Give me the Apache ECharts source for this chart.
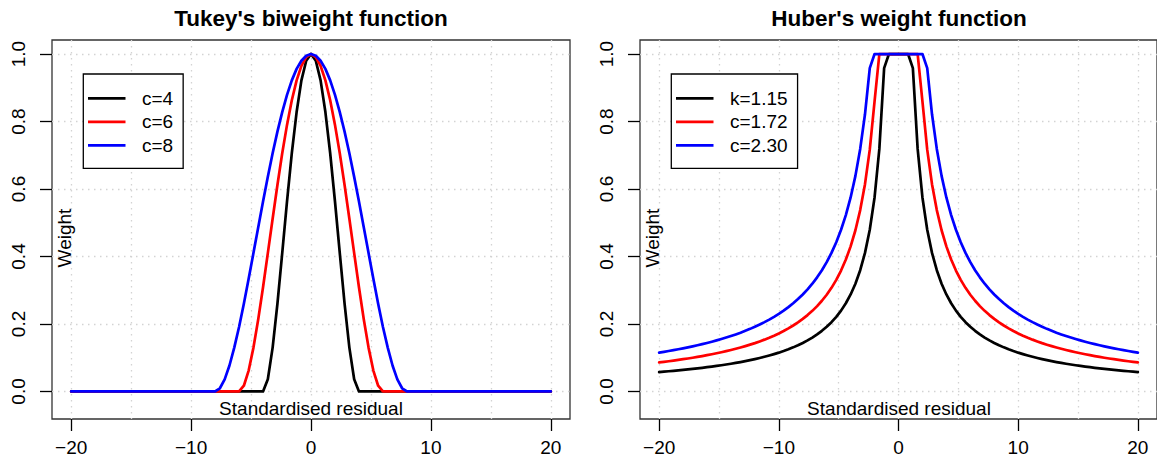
<!DOCTYPE html>
<html><head><meta charset="utf-8">
<script src="https://cdn.jsdelivr.net/npm/echarts@6/dist/echarts.min.js"></script>
<style>html,body{margin:0;padding:0;background:#fff}#c{width:1157px;height:468px}</style>
</head><body><div id="c"></div>
<script>
// ---- data ----
const residuals = [
 -20,-19.6,-19.2,-18.8,-18.4,-18,-17.6,-17.2,-16.8,-16.4,
 -16,-15.6,-15.2,-14.8,-14.4,-14,-13.6,-13.2,-12.8,-12.4,
 -12,-11.6,-11.2,-10.8,-10.4,-10,-9.6,-9.2,-8.8,-8.4,
 -8,-7.6,-7.2,-6.8,-6.4,-6,-5.6,-5.2,-4.8,-4.4,
 -4,-3.6,-3.2,-2.8,-2.4,-2,-1.6,-1.2,-0.8,-0.4,
 0,
 0.4,0.8,1.2,1.6,2,2.4,2.8,3.2,3.6,4,
 4.4,4.8,5.2,5.6,6,6.4,6.8,7.2,7.6,8,
 8.4,8.8,9.2,9.6,10,10.4,10.8,11.2,11.6,12,
 12.4,12.8,13.2,13.6,14,14.4,14.8,15.2,15.6,16,
 16.4,16.8,17.2,17.6,18,18.4,18.8,19.2,19.6,20
];
const tukeyC4 = [
 0,0,0,0,0,0,0,0,0,0,
 0,0,0,0,0,0,0,0,0,0,
 0,0,0,0,0,0,0,0,0,0,
 0,0,0,0,0,0,0,0,0,0,
 0,0.036,0.130,0.260,0.410,0.563,0.706,0.828,0.922,0.980,
 1,
 0.980,0.922,0.828,0.706,0.563,0.410,0.260,0.130,0.036,0,
 0,0,0,0,0,0,0,0,0,0,
 0,0,0,0,0,0,0,0,0,0,
 0,0,0,0,0,0,0,0,0,0,
 0,0,0,0,0,0,0,0,0,0
];
const tukeyC6 = [
 0,0,0,0,0,0,0,0,0,0,
 0,0,0,0,0,0,0,0,0,0,
 0,0,0,0,0,0,0,0,0,0,
 0,0,0,0,0,0,0.017,0.062,0.130,0.214,
 0.309,0.410,0.512,0.612,0.706,0.790,0.863,0.922,0.965,0.991,
 1,
 0.991,0.965,0.922,0.863,0.790,0.706,0.612,0.512,0.410,0.309,
 0.214,0.130,0.062,0.017,0,0,0,0,0,0,
 0,0,0,0,0,0,0,0,0,0,
 0,0,0,0,0,0,0,0,0,0,
 0,0,0,0,0,0,0,0,0,0
];
const tukeyC8 = [
 0,0,0,0,0,0,0,0,0,0,
 0,0,0,0,0,0,0,0,0,0,
 0,0,0,0,0,0,0,0,0,0,
 0,0.0095,0.036,0.077,0.130,0.191,0.260,0.334,0.410,0.487,
 0.563,0.636,0.706,0.770,0.828,0.879,0.922,0.956,0.980,0.995,
 1,
 0.995,0.980,0.956,0.922,0.879,0.828,0.770,0.706,0.636,0.563,
 0.487,0.410,0.334,0.260,0.191,0.130,0.077,0.036,0.0095,0,
 0,0,0,0,0,0,0,0,0,0,
 0,0,0,0,0,0,0,0,0,0,
 0,0,0,0,0,0,0,0,0,0
];
const huberK115 = [
 0.0575,0.0587,0.0599,0.0612,0.0625,0.0639,0.0653,0.0669,0.0685,0.0701,
 0.0719,0.0737,0.0757,0.0777,0.0799,0.0821,0.0846,0.0871,0.0898,0.0927,
 0.0958,0.0991,0.1027,0.1065,0.1106,0.115,0.1198,0.125,0.1307,0.1369,
 0.1438,0.1513,0.1597,0.1691,0.1797,0.1917,0.2054,0.2212,0.2396,0.2614,
 0.2875,0.3194,0.3594,0.4107,0.4792,0.575,0.7188,0.9583,1,1,
 1,
 1,1,0.9583,0.7188,0.575,0.4792,0.4107,0.3594,0.3194,0.2875,
 0.2614,0.2396,0.2212,0.2054,0.1917,0.1797,0.1691,0.1597,0.1513,0.1438,
 0.1369,0.1307,0.125,0.1198,0.115,0.1106,0.1065,0.1027,0.0991,0.0958,
 0.0927,0.0898,0.0871,0.0846,0.0821,0.0799,0.0777,0.0757,0.0737,0.0719,
 0.0701,0.0685,0.0669,0.0653,0.0639,0.0625,0.0612,0.0599,0.0587,0.0575
];
const huberC172 = [
 0.086,0.0878,0.0896,0.0915,0.0935,0.0956,0.0977,0.1,0.1024,0.1049,
 0.1075,0.1103,0.1132,0.1162,0.1194,0.1229,0.1265,0.1303,0.1344,0.1387,
 0.1433,0.1483,0.1536,0.1593,0.1654,0.172,0.1792,0.187,0.1955,0.2048,
 0.215,0.2263,0.2389,0.2529,0.2688,0.2867,0.3071,0.3308,0.3583,0.3909,
 0.43,0.4778,0.5375,0.6143,0.7167,0.86,1,1,1,1,
 1,
 1,1,1,1,0.86,0.7167,0.6143,0.5375,0.4778,0.43,
 0.3909,0.3583,0.3308,0.3071,0.2867,0.2688,0.2529,0.2389,0.2263,0.215,
 0.2048,0.1955,0.187,0.1792,0.172,0.1654,0.1593,0.1536,0.1483,0.1433,
 0.1387,0.1344,0.1303,0.1265,0.1229,0.1194,0.1162,0.1132,0.1103,0.1075,
 0.1049,0.1024,0.1,0.0977,0.0956,0.0935,0.0915,0.0896,0.0878,0.086
];
const huberC230 = [
 0.115,0.1173,0.1198,0.1223,0.125,0.1278,0.1307,0.1337,0.1369,0.1402,
 0.1438,0.1474,0.1513,0.1554,0.1597,0.1643,0.1691,0.1742,0.1797,0.1855,
 0.1917,0.1983,0.2054,0.213,0.2212,0.23,0.2396,0.25,0.2614,0.2738,
 0.2875,0.3026,0.3194,0.3382,0.3594,0.3833,0.4107,0.4423,0.4792,0.5227,
 0.575,0.6389,0.7188,0.8214,0.9583,1,1,1,1,1,
 1,
 1,1,1,1,1,0.9583,0.8214,0.7188,0.6389,0.575,
 0.5227,0.4792,0.4423,0.4107,0.3833,0.3594,0.3382,0.3194,0.3026,0.2875,
 0.2738,0.2614,0.25,0.2396,0.23,0.2212,0.213,0.2054,0.1983,0.1917,
 0.1855,0.1797,0.1742,0.1691,0.1643,0.1597,0.1554,0.1513,0.1474,0.1438,
 0.1402,0.1369,0.1337,0.1307,0.1278,0.125,0.1223,0.1198,0.1173,0.115
];
const tukeyNames = ['c=4', 'c=6', 'c=8'];
const huberNames = ['k=1.15', 'c=1.72', 'c=2.30'];
const titles = ["Tukey's biweight function", "Huber's weight function"];
const xAxisTitle = 'Standardised residual';
const yAxisTitle = 'Weight';
const xTickValues = [-20, -10, 0, 10, 20];
const xGridValues = [-20, -15, -10, -5, 0, 5, 10, 15, 20];
const yTickValues = [0, 0.2, 0.4, 0.6, 0.8, 1];

// ---- chart ----
const FONT = '"Liberation Sans", Arial, Helvetica, sans-serif';
const COLORS = ['#000000', '#ff0000', '#0000ff'];
const panelLeft = [52, 640];
const PW = 518, TOP = 40, PH = 379;
const XMIN = -21.6, XMAX = 21.6, YMIN = -0.0816, YMAX = 1.0416;

const chart = echarts.init(document.getElementById('c'), null, {renderer: 'svg'});
const grids = [], xAxes = [], yAxes = [], series = [], legends = [], graphics = [];
const panels = [
  {names: tukeyNames, ys: [tukeyC4, tukeyC6, tukeyC8]},
  {names: huberNames, ys: [huberK115, huberC172, huberC230]}
];
const fmtX = v => (v < 0 ? '\u2212' + Math.abs(v) : String(v));
const gridLine = {show: true, lineStyle: {color: '#d3d3d3', width: 1.3, type: [1.5, 4.5]}};
panels.forEach((p, i) => {
  const L = panelLeft[i];
  grids.push({left: L, top: TOP, width: PW, height: PH, show: true,
    borderColor: '#333', borderWidth: 1.3, backgroundColor: 'transparent', containLabel: false});
  xAxes.push({gridIndex: i, type: 'value', min: XMIN, max: XMAX, position: 'bottom',
    axisLine: {show: false, onZero: false},
    axisTick: {show: true, customValues: xTickValues, length: 12, lineStyle: {color: '#000', width: 1.3}},
    axisLabel: {show: true, customValues: xTickValues, formatter: fmtX, margin: 19,
      fontSize: 19, fontFamily: FONT, color: '#000'},
    splitLine: {show: false}});
  xAxes.push({gridIndex: i, type: 'value', min: XMIN, max: XMAX, position: 'bottom',
    axisLine: {show: false, onZero: false},
    axisTick: {show: false, customValues: xGridValues},
    axisLabel: {show: false},
    splitLine: gridLine});
  yAxes.push({gridIndex: i, type: 'value', min: YMIN, max: YMAX, position: 'left',
    axisLine: {show: false, onZero: false},
    axisTick: {show: true, customValues: yTickValues, length: 12, lineStyle: {color: '#000', width: 1.3}},
    axisLabel: {show: true, customValues: yTickValues, rotate: 90, margin: 24,
      formatter: v => Number(v).toFixed(1), fontSize: 19, fontFamily: FONT, color: '#000'},
    splitLine: gridLine});
  p.names.forEach((name, k) => {
    series.push({type: 'line', name: name, xAxisIndex: i * 2, yAxisIndex: i,
      data: residuals.map((x, j) => [x, p.ys[k][j]]),
      showSymbol: false, symbol: 'none', color: COLORS[k],
      lineStyle: {color: COLORS[k], width: 2.7, join: 'round', cap: 'round'},
      emphasis: {disabled: true}, silent: true, z: 3 + k});
  });
  legends.push({data: p.names, left: L + 31.3, top: 74, orient: 'vertical', icon: 'rect',
    itemWidth: 37.5, itemHeight: 2.7, itemGap: 3.5, padding: [14.3, 10, 13, 4.7],
    borderColor: '#000', borderWidth: 1.3, backgroundColor: '#fff', selectedMode: false,
    textStyle: {fontSize: 19, fontFamily: FONT, color: '#000', lineHeight: 20, padding: [0, 0, 0, 11.5]}});
  graphics.push({type: 'text', x: L + 259, y: 18, z: 10,
    style: {text: titles[i], fontSize: 22.5, fontWeight: 'bold', fontFamily: FONT, fill: '#000',
      textAlign: 'center', textVerticalAlign: 'middle', align: 'center', verticalAlign: 'middle'}});
  graphics.push({type: 'text', x: L + 259, y: 408, z: 10,
    style: {text: xAxisTitle, fontSize: 19, fontFamily: FONT, fill: '#000',
      textAlign: 'center', textVerticalAlign: 'middle', align: 'center', verticalAlign: 'middle'}});
  graphics.push({type: 'text', x: L + 12, y: 238, rotation: Math.PI / 2, z: 10,
    style: {text: yAxisTitle, fontSize: 19, fontFamily: FONT, fill: '#000',
      textAlign: 'center', textVerticalAlign: 'middle', align: 'center', verticalAlign: 'middle'}});
});

chart.setOption({
  animation: false,
  backgroundColor: '#fff',
  grid: grids, xAxis: xAxes, yAxis: yAxes, series: series, legend: legends, graphic: graphics
});
</script></body></html>
